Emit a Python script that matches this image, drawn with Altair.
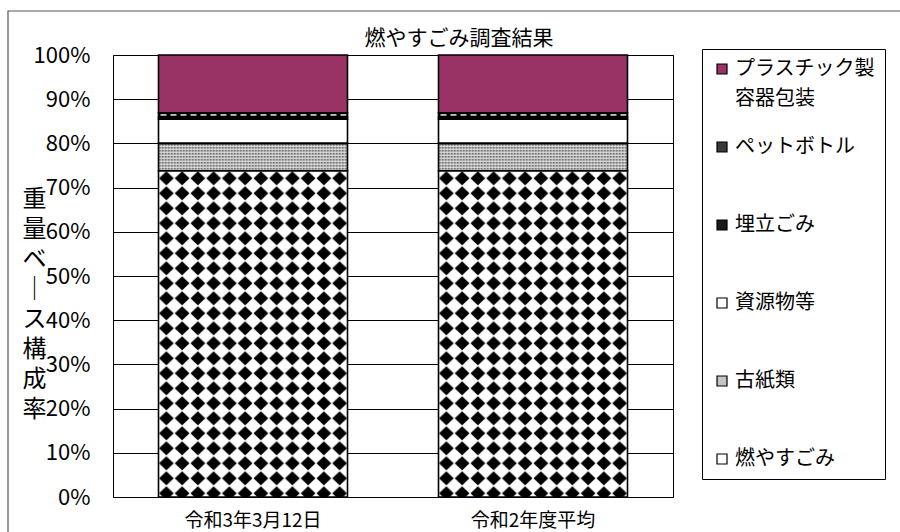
import urllib.parse

import altair as alt
import pandas as pd

# --- data -------------------------------------------------------------------
dates = ["令和3年3月12日", "令和2年度平均"]
# stacking order, bottom to top
segments = ["燃やすごみ", "古紙類", "資源物等", "埋立ごみ", "ペットボトル", "プラスチック製容器包装"]
share_r3_0312 = [73.8, 6.2, 5.5, 0.5, 0.9, 13.1]
share_r2_avg = [73.8, 6.2, 5.5, 0.5, 0.9, 13.1]
y_ticks = [0, 10, 20, 30, 40, 50, 60, 70, 80, 90, 100]
y_title = ["重", "量", "ベ", "｜", "ス", "構", "成", "率"]

# --- styles -----------------------------------------------------------------
FONT = "Noto Sans CJK JP"
fill_colors = {
    "燃やすごみ": "#ffffff",
    "古紙類": "#c4c4c4",
    "資源物等": "#ffffff",
    "埋立ごみ": "#1a1a1a",
    "ペットボトル": "#3a3a3a",
    "プラスチック製容器包装": "#993366",
}


def svg_pattern(tile_w, tile_h, body):
    svg = (
        "<svg xmlns='http://www.w3.org/2000/svg' width='100%' height='100%'>"
        f"<defs><pattern id='p' width='{tile_w}' height='{tile_h}' patternUnits='userSpaceOnUse'>"
        f"{body}</pattern></defs>"
        "<rect width='100%' height='100%' fill='url(#p)'/></svg>"
    )
    return "data:image/svg+xml," + urllib.parse.quote(svg)


patterns = {
    # black diamonds, tips nearly touching
    "燃やすごみ": svg_pattern(
        15.75, 15,
        "<rect width='15.75' height='15' fill='white'/>"
        "<path d='M7.875 0.5 L15.25 7.5 L7.875 14.5 L0.5 7.5 Z' fill='black'/>",
    ),
    # fine dot screen
    "古紙類": svg_pattern(
        3, 3,
        "<rect width='3' height='3' fill='#e6e6e6'/>"
        "<rect x='0.5' y='0.5' width='1.7' height='1.7' fill='#505050'/>",
    ),
    # white dashes on black
    "ペットボトル": svg_pattern(
        10, 4,
        "<rect width='10' height='4' fill='black'/>"
        "<rect x='2' y='1.2' width='6' height='1.6' fill='white'/>",
    ),
}

rows = []
for date, shares in zip(dates, [share_r3_0312, share_r2_avg]):
    for i, (seg, val) in enumerate(zip(segments, shares)):
        rows.append(
            {"date": date, "segment": seg, "order": i, "value": val,
             "pattern": patterns.get(seg, "")}
        )
df = pd.DataFrame(rows)

legend_order = list(reversed(segments))

x_enc = alt.X(
    "date:N",
    sort=dates,
    scale=alt.Scale(paddingInner=0.325, paddingOuter=0.1625),
    axis=alt.Axis(
        title=None, labelAngle=0, ticks=False, domain=False,
        labelPadding=14, labelFontSize=19, labelColor="black", labelFont=FONT,
    ),
)
y_enc = alt.Y(
    "y0:Q",
    scale=alt.Scale(domain=[0, 100], nice=False),
    axis=alt.Axis(
        values=y_ticks,
        labelExpr="datum.value + '%'",
        grid=True, gridColor="black", gridWidth=1,
        ticks=False, domain=False,
        labelPadding=23, labelFontSize=22, labelColor="black", labelFont=FONT,
        title=y_title, titleAngle=0, titleAlign="center", titleBaseline="top",
        titleX=-79, titleY=132, titleFontSize=24, titleLineHeight=30,
        titleFontWeight="normal", titleColor="black", titleFont=FONT,
    ),
)

base = alt.Chart(df).transform_stack(
    stack="value", groupby=["date"], as_=["y0", "y1"], sort=[alt.SortField("order")]
)

bars = base.mark_bar().encode(
    x=x_enc,
    y=y_enc,
    y2="y1:Q",
    color=alt.Color(
        "segment:N",
        scale=alt.Scale(domain=legend_order, range=[fill_colors[s] for s in legend_order]),
        legend=alt.Legend(
            title=None, orient="none", legendX=589, legendY=-6,
            padding=10, strokeColor="black", fillColor="white",
            symbolType="square", symbolSize=100, symbolStrokeColor="black",
            symbolStrokeWidth=1.2, symbolOpacity=1,
            labelFontSize=20, labelFont=FONT, labelColor="black", labelOffset=3,
            labelLimit=400, gridAlign="all", rowPadding=28,
            labelExpr="datum.label == 'プラスチック製容器包装' ? ['プラスチック製', '容器包装'] : datum.label",
        ),
    ),
)

textures = base.transform_filter("datum.pattern != ''").mark_image(aspect=False).encode(
    x=x_enc,
    y=y_enc,
    y2="y1:Q",
    url="pattern:N",
)

outlines = base.mark_bar(fillOpacity=0, stroke="black", strokeWidth=1.6).encode(
    x=x_enc,
    y=y_enc,
    y2="y1:Q",
)

# chart-area border (left and top edges fall inside the page)
frame = alt.Chart(alt.Data(values=[{"k": 1}])).mark_rect(
    fillOpacity=0, stroke="#555555", strokeWidth=1.2
).encode(
    x=alt.value(-105), x2=alt.value(800), y=alt.value(-44), y2=alt.value(495)
)

chart = (
    alt.layer(bars, textures, outlines, frame)
    .properties(
        width=560,
        height=442,
        title=alt.TitleParams(
            "燃やすごみ調査結果", fontSize=21, fontWeight="normal", font=FONT,
            color="black", anchor="middle", frame="group", dx=66, dy=44, offset=5,
        ),
        autosize=alt.AutoSizeParams(type="none"),
        padding={"left": 113, "top": 55, "right": 227, "bottom": 35},
    )
    .configure(font=FONT, style={"guide-label": {"lineHeight": 30}})
    .configure_view(stroke="black", strokeWidth=1)
)

chart.save("out.html", embed_options={"renderer": "svg", "actions": False})
